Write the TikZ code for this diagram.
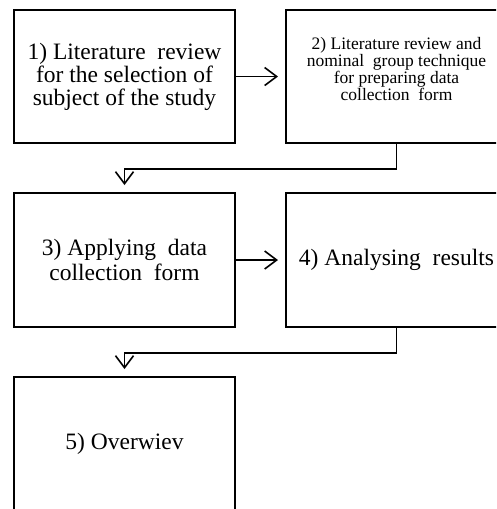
\documentclass[tikz,border=0pt]{standalone}
\usepackage{fontspec}
\setmainfont{Liberation Serif}
\usetikzlibrary{arrows.meta,positioning}

\begin{document}
\begin{tikzpicture}[
      x=1pt, y=-1pt,
      stage/.style={rectangle, draw, line width=2pt, align=center,
                    minimum width=221pt, minimum height=133pt, inner sep=0pt,
                    font=\fontsize{23.5}{23}\selectfont},
      link/.style={-{Straight Barb[length=12pt,width=18pt]}, line width=1.6pt,
                   shorten >=7pt},
    ]
    \useasboundingbox (0,0) rectangle (496,509);
    \clip (0,0) rectangle (496,509);
    \node[stage] (s1) at (124.5,76.5) {1) Literature\ \ review\\ for the selection of\\ subject of the study};
    \node[stage, font=\fontsize{17.5}{15}\selectfont, text depth=15pt] (s2) at (396.5,76.5)
      {2) Literature review and\\ nominal\ \ group technique\\ for preparing data\\ collection\ \ form};
    \node[stage, minimum height=134pt, font=\fontsize{23.5}{25}\selectfont] (s3) at (124.5,260)
      {3) Applying\ \ data\\ collection\ \ form};
    \node[stage, minimum height=134pt] (s4) at (396.5,260) {4) Analysing\ \ results};
    \node[stage] (s5) at (124.5,443.5) {5) Overwiev};
    \draw[link] (s1) -- (s2);
    \draw[link] (s3) -- (s4);
    \draw[link] (s2.south) -- ++(0,25) -| (s3.north);
    \draw[link] (s4.south) -- ++(0,25) -| (s5.north);
  \end{tikzpicture}
\end{document}
